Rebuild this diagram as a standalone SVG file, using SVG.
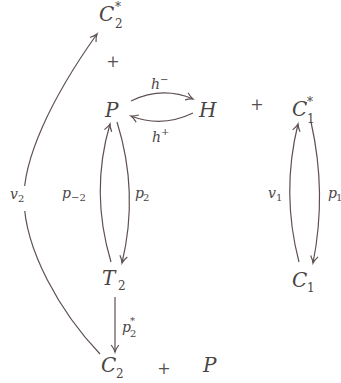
<svg xmlns="http://www.w3.org/2000/svg" width="341" height="383" viewBox="0 0 341 383">
<style>
text{font-family:"DejaVu Serif","Liberation Serif",serif;fill:#4a4444}
.m{font-style:italic;font-size:20px}
.s{font-size:12px}
.l{font-style:italic;font-size:14px}
.ls{font-size:10px}
.pl{font-size:16px;fill:#555050;text-anchor:middle}
.e{fill:none;stroke:#5e5050;stroke-width:1.2}
</style>
<defs>
<marker id="ah" markerUnits="userSpaceOnUse" markerWidth="16" markerHeight="16" refX="0" refY="0" viewBox="-10 -8 12 16" orient="auto">
<path d="M-7,-3.8 Q-3,-0.8 0,0 Q-3,0.8 -7,3.8" fill="none" stroke="#5e5050" stroke-width="1.2"/>
</marker>
</defs>
<rect width="341" height="383" fill="#fff"/>
<g id="connectors">
<path class="e" d="M131,101 Q162,86 193,99" marker-end="url(#ah)"/>
<path class="e" d="M193,113 Q162,128 131,116" marker-end="url(#ah)"/>
<path class="e" d="M111,262 Q90,192 110,124" marker-end="url(#ah)"/>
<path class="e" d="M117,122 Q139,192 122,263" marker-end="url(#ah)"/>
<path class="e" d="M299,262 Q281,193 298,124" marker-end="url(#ah)"/>
<path class="e" d="M311,122 Q327,193 313,263" marker-end="url(#ah)"/>
<path class="e" d="M115,297 L115,352" marker-end="url(#ah)"/>
<path class="e" d="M100,354 C60,312 25,250 24,200 C23,160 50,100 97,34" marker-end="url(#ah)"/>
</g>
<g id="labels">
<rect x="8" y="186" width="20" height="25" fill="#fff"/>
<text class="l" x="10" y="199">v</text><text class="ls" x="18" y="202">2</text>
<text class="l" x="62" y="198">p</text><text class="ls" x="71" y="201">−2</text>
<text class="l" x="135" y="198">p</text><text class="ls" x="143" y="201">2</text>
<text class="l" x="268" y="198">v</text><text class="ls" x="276" y="201">1</text>
<text class="l" x="328" y="198">p</text><text class="ls" x="336" y="201">1</text>
<text class="l" x="122" y="332">p</text><text class="ls" x="130" y="324">*<tspan x="130" y="337">2</tspan></text>
<text class="l" x="151" y="89">h</text><text class="ls" x="160" y="83">−</text>
<text class="l" x="152" y="142">h</text><text class="ls" x="161" y="135">+</text>
</g>
<g id="C2star"><text class="m" x="99" y="21">C</text><text class="s" x="115" y="11">*<tspan x="115" y="28">2</tspan></text></g>
<text class="pl" x="113" y="67">+</text>
<g id="P"><text class="m" x="105" y="117">P</text></g>
<g id="H"><text class="m" x="199" y="117">H</text></g>
<text class="pl" x="257" y="110">+</text>
<g id="C1star"><text class="m" x="292" y="116">C</text><text class="s" x="307" y="106">*<tspan x="307" y="123">1</tspan></text></g>
<g id="T2"><text class="m" x="102" y="285">T</text><text class="s" x="118" y="290">2</text></g>
<g id="C1"><text class="m" x="292" y="287">C</text><text class="s" x="307" y="292">1</text></g>
<g id="C2"><text class="m" x="101" y="372">C</text><text class="s" x="116" y="378">2</text></g>
<text class="pl" x="164" y="374">+</text>
<g id="P2"><text class="m" x="203" y="372">P</text></g>
</svg>
